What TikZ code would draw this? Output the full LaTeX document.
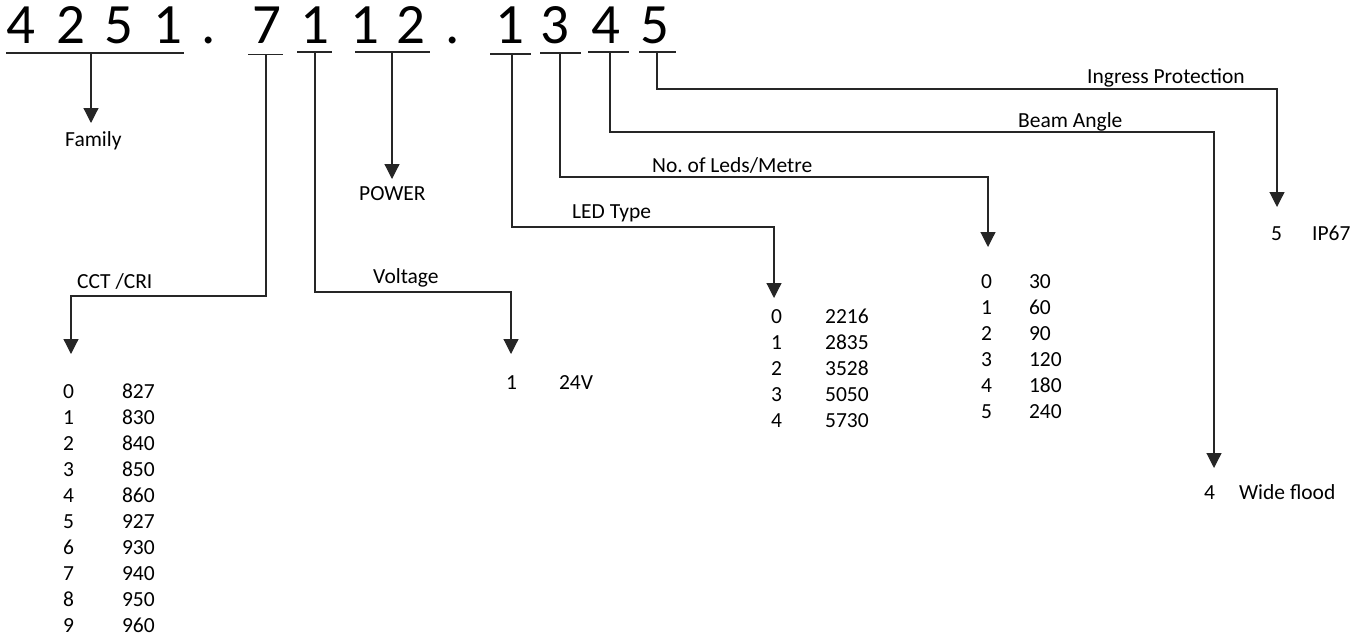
\documentclass[tikz,border=0pt]{standalone}
\usepackage{fontspec}
\setmainfont{Carlito}
\usetikzlibrary{arrows.meta}
\frenchspacing
\tikzset{
  link/.style={draw=black!85, line width=1.2pt},
  linkarrow/.style={link, -{Triangle[width=15pt,length=15pt]}},
  code/.style={anchor=base, inner sep=0pt, font=\fontsize{57}{60}\selectfont},
  lbl/.style={anchor=base west, inner sep=0pt, font=\fontsize{21.5}{26}\selectfont},
}

\begin{document}
\begin{tikzpicture}[x=1pt, y=-1pt]
      \useasboundingbox (0,0) rectangle (1370,637);
      % Code digits
      \node[code] (f1) at (20.5,43) {4};
      \node[code] (f2) at (71,43) {2};
      \node[code] (f3) at (119,43) {5};
      \node[code] (f4) at (167.5,43) {1};
      \node[code] (dotA) at (209,43) {.};
      \node[code] (cct) at (267,43) {7};
      \node[code] (volt) at (315,43) {1};
      \node[code] (pw1) at (365,43) {1};
      \node[code] (pw2) at (411,43) {2};
      \node[code] (dotB) at (453,43) {.};
      \node[code] (led) at (510,43) {1};
      \node[code] (leds) at (555,43) {3};
      \node[code] (beam) at (606,43) {4};
      \node[code] (ip) at (655,43) {5};
      % Underlines
      \draw[link] (6,53) -- (184,53);
      \draw[link] (248,54.5) -- (283,54.5);
      \draw[link] (297,52) -- (332,52);
      \draw[link] (355,52) -- (430,52);
      \draw[link] (490,54) -- (531,54);
      \draw[link] (540,53) -- (581,53);
      \draw[link] (588,52) -- (629,52);
      \draw[link] (639,52) -- (676,52);
      % Labels
      \node[lbl] (famLbl) at (65,146) {Family};
      \node[lbl] (pwLbl) at (359,200) {POWER};
      \node[lbl] (cctLbl) at (77,288) {CCT /CRI};
      \node[lbl] (voltLbl) at (373,283) {Voltage};
      \node[lbl] (ledLbl) at (572,218) {LED Type};
      \node[lbl] (ledsLbl) at (652,172) {No. of Leds/Metre};
      \node[lbl] (beamLbl) at (1018,127) {Beam Angle};
      \node[lbl] (ipLbl) at (1087,83) {Ingress Protection};
      % Tables
      \node[lbl] (cctTab) at (63,398) {\begin{tabular}[t]{@{}l@{\hspace{48pt}}l@{}}
        0 & 827\\ 1 & 830\\ 2 & 840\\ 3 & 850\\ 4 & 860\\
        5 & 927\\ 6 & 930\\ 7 & 940\\ 8 & 950\\ 9 & 960
      \end{tabular}};
      \node[lbl] (voltTab) at (506,389) {\begin{tabular}[t]{@{}l@{\hspace{42pt}}l@{}}
        1 & 24V
      \end{tabular}};
      \node[lbl] (ledTab) at (771,323) {\begin{tabular}[t]{@{}l@{\hspace{43pt}}l@{}}
        0 & 2216\\ 1 & 2835\\ 2 & 3528\\ 3 & 5050\\ 4 & 5730
      \end{tabular}};
      \node[lbl] (ledsTab) at (981,288) {\begin{tabular}[t]{@{}l@{\hspace{37pt}}l@{}}
        0 & 30\\ 1 & 60\\ 2 & 90\\ 3 & 120\\ 4 & 180\\ 5 & 240
      \end{tabular}};
      \node[lbl] (beamTab) at (1204,499) {\begin{tabular}[t]{@{}l@{\hspace{24pt}}l@{}}
        4 & Wide flood
      \end{tabular}};
      \node[lbl] (ipTab) at (1271,240) {\begin{tabular}[t]{@{}l@{\hspace{30pt}}l@{}}
        5 & IP67
      \end{tabular}};
      % Start points on the underlines
      \coordinate (famTop) at (91,53);
      \coordinate (cctTop) at (266,54.5);
      \coordinate (voltTop) at (315,52);
      \coordinate (pwTop) at (392,52);
      \coordinate (ledTop) at (512,54);
      \coordinate (ledsTop) at (560,53);
      \coordinate (beamTop) at (610,52);
      \coordinate (ipTop) at (657,52);
      % Bends
      \coordinate (cctBend) at (71,296);
      \coordinate (voltBend) at (511,292);
      \coordinate (ledBend) at (774,227);
      \coordinate (ledsBend) at (988,177);
      \coordinate (beamBend) at (1214,132);
      \coordinate (ipBend) at (1277,89);
      % Arrow tips
      \coordinate (famTip) at (91,123);
      \coordinate (pwTip) at (392,179);
      \coordinate (cctTip) at (71,354);
      \coordinate (voltTip) at (511,354);
      \coordinate (ledTip) at (774,298);
      \coordinate (ledsTip) at (988,247);
      \coordinate (beamTip) at (1214,468);
      \coordinate (ipTip) at (1277,207);
      % Arrows
      \draw[linkarrow] (famTop) -- (famTip);
      \draw[linkarrow] (pwTop) -- (pwTip);
      \draw[linkarrow] (cctTop) |- (cctBend) -- (cctTip);
      \draw[linkarrow] (voltTop) |- (voltBend) -- (voltTip);
      \draw[linkarrow] (ledTop) |- (ledBend) -- (ledTip);
      \draw[linkarrow] (ledsTop) |- (ledsBend) -- (ledsTip);
      \draw[linkarrow] (beamTop) |- (beamBend) -- (beamTip);
      \draw[linkarrow] (ipTop) |- (ipBend) -- (ipTip);
\end{tikzpicture}
\end{document}
